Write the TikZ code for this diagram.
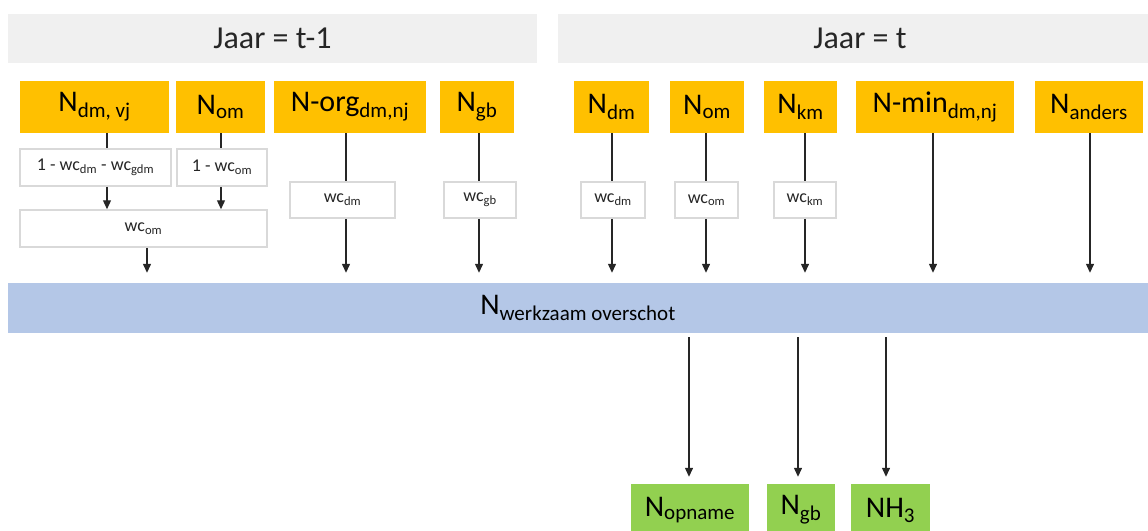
\documentclass[tikz,border=0pt]{standalone}
\usepackage{fontspec}
\setmainfont{Carlito}
\usetikzlibrary{arrows.meta,positioning,calc}
\definecolor{jaarGray}{HTML}{F0F0F0}
\definecolor{nGold}{HTML}{FFC000}
\definecolor{nGreen}{HTML}{92D050}
\definecolor{barBlue}{HTML}{B4C7E7}
\definecolor{wcEdge}{HTML}{D9D9D9}
\definecolor{txtDark}{HTML}{262626}
\tikzset{
  >={Triangle[length=9pt,width=8pt]},
  bigText/.style={font=\fontsize{30}{36}\selectfont},
  jaarBox/.style={font=\fontsize{32}{38}\selectfont,fill=jaarGray,text=txtDark,inner sep=0pt,minimum height=49pt},
  nBox/.style={bigText,fill=nGold,inner sep=0pt,minimum height=52pt},
  outBox/.style={bigText,fill=nGreen,inner sep=0pt,minimum height=52pt},
  wcBox/.style={font=\fontsize{18}{22}\selectfont,draw=wcEdge,line width=1.5pt,fill=white,text=txtDark,inner sep=0pt,minimum height=36pt},
  barBox/.style={bigText,fill=barBlue,inner sep=0pt,minimum height=50pt},
  link/.style={line width=1.3pt,draw=black!85},
}

\begin{document}
\begin{tikzpicture}[x=1pt,y=-1pt]
\useasboundingbox (0,0) rectangle (1148,530);
\clip (0,0) rectangle (1148,530);

% Column anchors
\coordinate (C1) at (107,0);
\coordinate (C2) at (221,0);
\coordinate (C3) at (147,0);
\coordinate (C4) at (346,0);
\coordinate (C5) at (479,0);
\coordinate (C6) at (612,0);
\coordinate (C7) at (706,0);
\coordinate (C8) at (805,0);
\coordinate (C9) at (933,0);
\coordinate (C10) at (1090,0);
\coordinate (D1) at (689,0);
\coordinate (D2) at (798,0);
\coordinate (D3) at (886,0);

% ===== Years =====
\node[jaarBox,minimum width=529pt] (jaarPrev) at (272.5,38.5) {Jaar = t-1};
\node[jaarBox,minimum width=604pt] (jaarCur) at (860,38.5) {Jaar = t};

% ===== Sources, year t-1 =====
\node[nBox,minimum width=149pt] (ndmvj) at (94.5,107) {N\textsubscript{dm, vj}};
\node[nBox,minimum width=89pt] (nomPrev) at (220.5,107) {N\textsubscript{om}};
\node[nBox,minimum width=152pt] (norg) at (350,107) {N-org\textsubscript{dm,nj}};
\node[nBox,minimum width=74pt] (ngbPrev) at (477,107) {N\textsubscript{gb}};

% ===== Sources, year t =====
\node[nBox,minimum width=75pt] (ndm) at (611.5,107) {N\textsubscript{dm}};
\node[nBox,minimum width=74pt] (nom) at (707,107) {N\textsubscript{om}};
\node[nBox,minimum width=73pt] (nkm) at (800.5,107) {N\textsubscript{km}};
\node[nBox,minimum width=158pt] (nmin) at (935,107) {N-min\textsubscript{dm,nj}};
\node[nBox,minimum width=108pt] (nanders) at (1089,107) {N\textsubscript{anders}};

% ===== Working coefficients =====
\node[wcBox,minimum width=151pt,minimum height=37pt] (fdm) at (95.5,167.5) {1 - wc\textsubscript{dm} - wc\textsubscript{gdm}};
\node[wcBox,minimum width=90pt,minimum height=37pt] (fom) at (222,167.5) {1 - wc\textsubscript{om}};
\node[wcBox,minimum width=247pt,minimum height=37pt] (wcomPrev) at (143.5,228.5) {wc\textsubscript{om}};
\node[wcBox,minimum width=105pt] (wcdmPrev) at (342.5,200) {wc\textsubscript{dm}};
\node[wcBox,minimum width=72pt] (wcgbPrev) at (480,200) {wc\textsubscript{gb}};
\node[wcBox,minimum width=64pt] (wcdm) at (613,200) {wc\textsubscript{dm}};
\node[wcBox,minimum width=63pt] (wcom) at (706.5,200) {wc\textsubscript{om}};
\node[wcBox,minimum width=62pt] (wckm) at (805,200) {wc\textsubscript{km}};

% ===== Surplus bar =====
\node[barBox,minimum width=1140pt] (bar) at (578,308) {N\textsubscript{werkzaam overschot}};

% ===== Outputs =====
\node[outBox,minimum width=118pt] (nopname) at (690,510) {N\textsubscript{opname}};
\node[outBox,minimum width=68pt] (ngbOut) at (801,510) {N\textsubscript{gb}};
\node[outBox,minimum width=79pt] (nh3) at (890.5,510) {NH\textsubscript{3}};

% ===== Connections =====
\foreach \n/\w/\c in {ndmvj/fdm/C1,nomPrev/fom/C2,norg/wcdmPrev/C4,ngbPrev/wcgbPrev/C5,ndm/wcdm/C6,nom/wcom/C7,nkm/wckm/C8}
  {\draw[link] (\n.south -| \c) -- (\w.north -| \c);}
\foreach \n/\c in {fdm/C1,fom/C2}
  {\draw[link,->] (\n.south -| \c) -- (wcomPrev.north -| \c);}
\foreach \n/\c in {wcomPrev/C3,wcdmPrev/C4,wcgbPrev/C5,wcdm/C6,wcom/C7,wckm/C8,nmin/C9,nanders/C10}
  {\draw[link,->,shorten >=10pt] (\n.south -| \c) -- (bar.north -| \c);}
\foreach \o/\c in {nopname/D1,ngbOut/D2,nh3/D3}
  {\draw[link,->,shorten <=4pt,shorten >=7pt] (bar.south -| \c) -- (\o.north -| \c);}

\end{tikzpicture}
\end{document}
